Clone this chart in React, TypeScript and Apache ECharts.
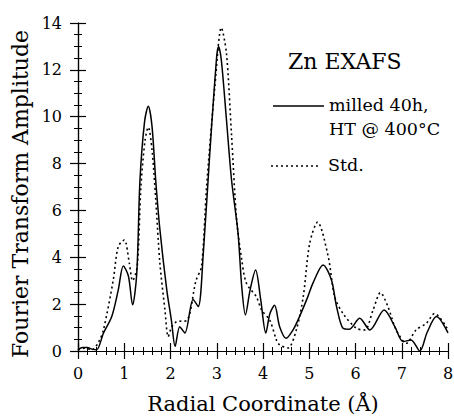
import React, { useEffect, useRef } from "react";
import * as echarts from "echarts";

const milledX = [0, 0.1, 0.2, 0.3, 0.4, 0.55, 0.73, 0.87, 0.98, 1.09, 1.18, 1.27, 1.34, 1.44, 1.52, 1.6, 1.68, 1.77, 1.92, 2.02, 2.1, 2.2, 2.31, 2.49, 2.6, 2.71, 2.85, 3.0, 3.04, 3.1, 3.21, 3.32, 3.46, 3.54, 3.62, 3.72, 3.84, 3.95, 4.06, 4.15, 4.25, 4.36, 4.5, 4.65, 4.79, 4.97, 5.08, 5.3, 5.48, 5.59, 5.73, 5.87, 6.09, 6.31, 6.62, 6.85, 7.03, 7.2, 7.39, 7.55, 7.75, 8.0];
const milledY = [0.05, 0.15, 0.15, 0.08, 0.05, 0.76, 1.47, 2.6, 3.63, 3.2, 1.97, 3.3, 7.3, 9.8, 10.45, 9.6, 7.3, 5.2, 2.6, 1.3, 0.2, 1.04, 0.77, 2.2, 1.9, 4.2, 8.45, 12.6, 13.0, 12.4, 9.87, 7.3, 5.04, 2.75, 1.54, 2.6, 3.46, 2.2, 0.77, 1.6, 1.95, 1.04, 0.54, 0.9, 1.47, 2.32, 2.9, 3.67, 3.03, 1.9, 0.97, 0.93, 1.4, 0.9, 1.75, 1.04, 0.4, 0.47, 0.0, 0.8, 1.47, 0.77];

const stdX = [0, 0.15, 0.3, 0.45, 0.55, 0.76, 0.87, 1.0, 1.11, 1.18, 1.28, 1.36, 1.45, 1.52, 1.6, 1.68, 1.77, 1.88, 1.95, 2.02, 2.13, 2.35, 2.55, 2.67, 2.78, 2.96, 3.1, 3.21, 3.32, 3.43, 3.54, 3.64, 3.86, 3.97, 4.15, 4.29, 4.36, 4.54, 4.72, 4.87, 5.01, 5.18, 5.41, 5.55, 5.73, 6.02, 6.2, 6.38, 6.54, 6.7, 6.88, 7.1, 7.31, 7.53, 7.71, 7.98];
const stdY = [0.05, 0.12, 0.05, 0.4, 0.9, 3.0, 4.46, 4.74, 3.75, 3.0, 3.6, 7.0, 9.0, 9.55, 8.6, 6.5, 3.76, 1.75, 0.61, 1.0, 1.25, 1.3, 3.0, 3.6, 7.0, 11.3, 13.8, 12.7, 9.2, 5.6, 3.9, 2.9, 2.3, 1.75, 1.3, 0.47, 0.26, 0.13, 0.9, 2.32, 4.6, 5.5, 4.03, 2.32, 1.6, 0.97, 0.9, 1.75, 2.49, 1.9, 0.9, 0.33, 0.9, 1.18, 1.6, 0.97];

const title = "Zn EXAFS";
const legendMilled1 = "milled 40h,";
const legendMilled2 = "HT @ 400°C";
const legendStd = "Std.";
const xName = "Radial Coordinate (Å)";
const yName = "Fourier Transform Amplitude";

const FONT = "DejaVu Serif";

export default function App() {
  const ref = useRef<HTMLDivElement>(null);
  useEffect(() => {
    if (!ref.current) return;
    const chart = echarts.init(ref.current, null, { renderer: "svg" });
    const axisCommon = {
      type: "value",
      axisLine: { show: true, lineStyle: { color: "#000", width: 1.2 } },
      axisTick: { show: true, inside: true, length: 8, lineStyle: { color: "#000", width: 1.2 } },
      minorTick: { show: true, length: 4, lineStyle: { color: "#000", width: 1 } },
      splitLine: { show: false },
      minorSplitLine: { show: false },
    };
    const txt = (fontSize: number) => ({ color: "#000", fontFamily: FONT, fontSize });
    chart.setOption({
      animation: false,
      backgroundColor: "#fff",
      textStyle: { fontFamily: FONT },
      grid: { left: 78, right: 6, top: 23, bottom: 66, containLabel: false, outerBoundsMode: "none" },
      xAxis: [
        {
          ...axisCommon,
          min: 0,
          max: 8,
          interval: 1,
          minorTick: { ...axisCommon.minorTick, splitNumber: 5 },
          axisLabel: { ...txt(16), margin: 14 },
          name: xName,
          nameLocation: "middle",
          nameGap: 42,
          nameTextStyle: txt(21),
        },
        {
          ...axisCommon,
          position: "top",
          min: 0,
          max: 8,
          interval: 1,
          minorTick: { ...axisCommon.minorTick, splitNumber: 5 },
          axisLabel: { show: false },
        },
      ],
      yAxis: [
        {
          ...axisCommon,
          min: 0,
          max: 14,
          interval: 2,
          minorTick: { ...axisCommon.minorTick, splitNumber: 4 },
          axisLabel: { ...txt(16), margin: 16 },
        },
        {
          ...axisCommon,
          position: "right",
          min: 0,
          max: 14,
          interval: 2,
          minorTick: { ...axisCommon.minorTick, splitNumber: 4 },
          axisLabel: { show: false },
        },
      ],
      series: [
        {
          type: "line",
          name: "Std.",
          data: stdX.map((x, i) => [x, stdY[i]]),
          smooth: 0.3,
          showSymbol: false,
          lineStyle: { color: "#000", width: 1.6, type: [2, 3] },
          z: 2,
        },
        {
          type: "line",
          name: "milled",
          data: milledX.map((x, i) => [x, milledY[i]]),
          smooth: 0.3,
          showSymbol: false,
          lineStyle: { color: "#000", width: 1.5 },
          z: 3,
        },
      ],
      graphic: [
        {
          type: "text",
          x: 20,
          y: 194,
          rotation: Math.PI / 2,
          style: { text: yName, fontFamily: FONT, fontSize: 22, fill: "#000", align: "center", verticalAlign: "middle" },
        },
        {
          type: "text",
          left: 288,
          top: 50,
          style: { text: title, fontFamily: FONT, fontSize: 22, fill: "#000" },
        },
        {
          type: "line",
          shape: { x1: 273, y1: 106, x2: 324, y2: 106 },
          style: { stroke: "#000", lineWidth: 1.5 },
        },
        {
          type: "text",
          left: 329,
          top: 96,
          style: { text: legendMilled1, fontFamily: FONT, fontSize: 17.5, fill: "#000" },
        },
        {
          type: "text",
          left: 329,
          top: 120,
          style: { text: legendMilled2, fontFamily: FONT, fontSize: 17.5, fill: "#000" },
        },
        {
          type: "line",
          shape: { x1: 271, y1: 166, x2: 321, y2: 166 },
          style: { stroke: "#000", lineWidth: 1.6, lineDash: [2, 3] },
        },
        {
          type: "text",
          left: 328,
          top: 156,
          style: { text: legendStd, fontFamily: FONT, fontSize: 17.5, fill: "#000" },
        },
      ],
    });
    return () => chart.dispose();
  }, []);
  return <div ref={ref} style={{ width: 454, height: 417, position: "absolute", left: 0, top: 0 }} />;
}
